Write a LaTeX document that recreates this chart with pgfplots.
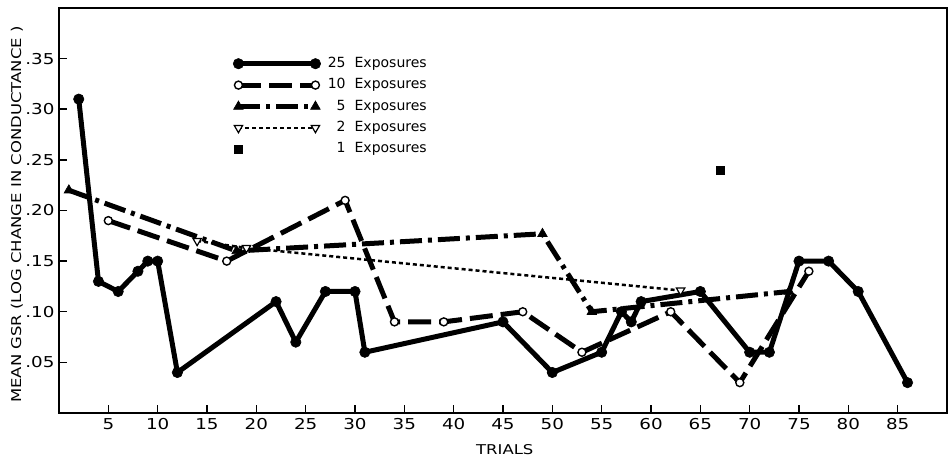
\documentclass[border=0pt]{standalone}
\usepackage{fontspec}
\setmainfont{DejaVu Sans}
\newfontfamily\widefont{DejaVu Sans}[FakeStretch=1.22]
\usepackage{pgfplots}
\pgfplotsset{compat=1.18}
\pgfplotsset{singlemark legend/.style={legend image code/.code={\draw[##1] plot coordinates {(0pt,0pt)};}}}
\begin{document}
\begin{tikzpicture}
\begin{axis}[
  name=ax,
  scale only axis, width=888pt, height=405pt,
  xmin=0, xmax=90, ymin=0, ymax=0.40,
  axis line style={line width=2pt},
  xtick={5,10,...,85},
  ytick={0.05,0.1,0.15,0.2,0.25,0.3,0.35},
  yticklabels={.05,.10,.15,.20,.25,.30,.35},
  xtick pos=lower, ytick pos=left,
  tick align=inside, major tick length=8pt,
  tick style={line width=1.5pt, black},
  /pgf/number format/assume math mode=true,
  tick label style={font=\widefont\fontsize{15}{15}\selectfont},
  xticklabel style={yshift=-2pt},
  yticklabel style={xshift=-1pt},
  xlabel={TRIALS},
  ylabel={MEAN GSR (LOG CHANGE IN CONDUCTANCE )},
  label style={font=\widefont\fontsize{13.5}{13.5}\selectfont},
  xlabel style={at={(axis description cs:0.502,-0.091)}, anchor=center},
  ylabel style={at={(axis description cs:-0.0473,0.49)}, anchor=center},
  legend image code/.code={\draw[#1] plot coordinates {(0pt,0pt) (77pt,0pt)};},
  legend cell align=left,
  legend style={draw=none, fill=none, inner sep=0pt,
    at={(axis description cs:0.196,0.879)}, anchor=north west,
    font=\fontsize{14}{14}\selectfont,
    nodes={text height=10pt, text depth=3pt, inner sep=0pt},
    row sep=8.4pt,
    /tikz/every even column/.append style={column sep=6pt}},
]
\addplot[black, line width=5pt, mark=*, mark size=5.2pt, mark options={solid, line width=0.6pt}] coordinates {
(2,0.31)(4,0.13)(6,0.12)(8,0.14)(9,0.15)(10,0.15)(12,0.04)(22,0.11)(24,0.07)(27,0.12)(30,0.12)(31,0.06)(45,0.09)(50,0.04)(55,0.06)(57,0.10)(58,0.09)(59,0.11)(65,0.12)(70,0.06)(72,0.06)(75,0.15)(78,0.15)(81,0.12)(86,0.03)};
\addlegendentry{\makebox[25pt][r]{25}\hspace{9pt}Exposures}
\addplot[black, line width=5pt, dash pattern=on 23pt off 8pt, mark=*, mark size=4pt, mark options={solid, fill=white, line width=1.4pt}] coordinates {
(5,0.19)(17,0.15)(29,0.21)(34,0.09)(39,0.09)(47,0.10)(53,0.06)(62,0.10)(69,0.03)(76,0.14)};
\addlegendentry{\makebox[25pt][r]{10}\hspace{9pt}Exposures}
\addplot[black, line width=5pt, dash pattern=on 22pt off 6pt on 4pt off 6pt, mark=triangle*, mark size=5.5pt, mark options={solid, line width=0.6pt}] coordinates {
(1,0.22)(18,0.16)(49,0.177)(54,0.10)(74,0.12)};
\addlegendentry{\makebox[25pt][r]{5}\hspace{9pt}Exposures}
\addplot[black, line width=2.5pt, dash pattern=on 4pt off 3pt, mark=triangle*, mark size=4.8pt, mark options={solid, rotate=180, fill=white, line width=1.2pt}] coordinates {
(14,0.17)(19,0.163)(63,0.121)};
\addlegendentry{\makebox[25pt][r]{2}\hspace{9pt}Exposures}
\addplot[black, only marks, mark=square*, mark size=4pt, mark options={line width=0.6pt}, singlemark legend] coordinates {(67,0.24)};
\addlegendentry{\makebox[25pt][r]{1}\hspace{9pt}Exposures}
\end{axis}
\pgfresetboundingbox
\path ([shift={(-59pt,-47pt)}]ax.south west) rectangle ([shift={(1pt,8pt)}]ax.north east);
\end{tikzpicture}
\end{document}
